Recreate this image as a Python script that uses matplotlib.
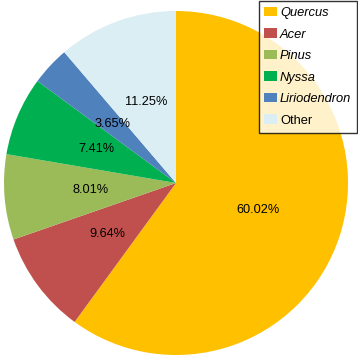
import matplotlib
matplotlib.use("Agg")
import matplotlib.pyplot as plt
import numpy as np
from matplotlib.patches import Patch

labels = ["Quercus", "Acer", "Pinus", "Nyssa", "Liriodendron", "Other"]
values = [60.02, 9.64, 8.01, 7.41, 3.65, 11.25]
colors = ["#FFC000", "#C0504D", "#9BBB59", "#00B050", "#4F81BD", "#DAEEF3"]

plt.rcParams['font.family'] = ['Liberation Sans', 'DejaVu Sans']

W, H = 358, 362
fig = plt.figure(figsize=(W/100, H/100), dpi=100)
cx, cy, r = 176, 183, 172
ax = fig.add_axes([(cx - r)/W, (H - cy - r)/H, 2*r/W, 2*r/H])
wedges, texts = ax.pie(values, colors=colors, startangle=90, counterclock=False, radius=1)
for w, v in zip(wedges, values):
    ang = np.deg2rad((w.theta1 + w.theta2) / 2)
    ax.text(0.5*np.cos(ang), 0.5*np.sin(ang), f"{v:.2f}%", ha='center', va='center',
            fontsize=9.2, color='black')
ax.set_xlim(-1, 1)
ax.set_ylim(-1, 1)
ax.set_aspect('equal')
ax.axis('off')

handles = [Patch(facecolor=c, edgecolor='none') for c in colors]
leg = fig.legend(handles, labels, loc='upper right', bbox_to_anchor=(357/W, 1 - 1/H),
                 frameon=True, fancybox=False, fontsize=9.3, handlelength=1.0, handleheight=0.75,
                 handletextpad=0.2, labelspacing=0.72, borderpad=0.45, borderaxespad=0)
leg.get_frame().set_edgecolor('black')
leg.get_frame().set_linewidth(1.0)
for t, lab in zip(leg.get_texts(), labels):
    if lab != "Other":
        t.set_style('italic')

fig.savefig("out.png", dpi=100)
